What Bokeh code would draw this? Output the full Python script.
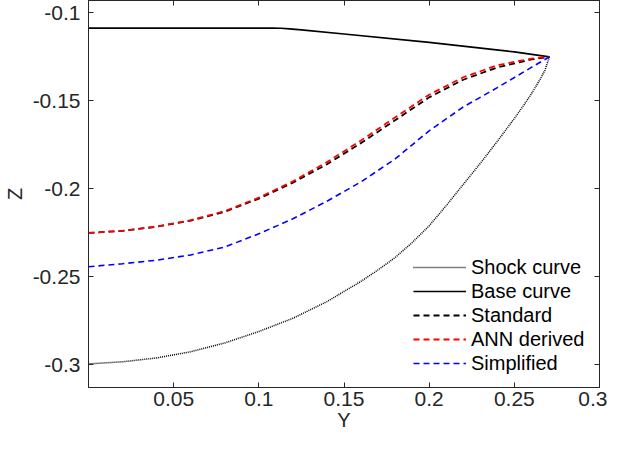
from bokeh.plotting import figure
from bokeh.models import Range1d, LinearAxis, FixedTicker, Legend, LegendItem
from bokeh.embed import file_html
from bokeh.resources import INLINE

# ---- data ----
y_grid = [0.0, 0.02, 0.04, 0.06, 0.08, 0.10, 0.12, 0.14, 0.16, 0.18, 0.20, 0.22, 0.24, 0.26, 0.2706]
z_standard = [-0.2250, -0.2238, -0.2215, -0.2180, -0.2130, -0.2055, -0.1965, -0.1860, -0.1740,
              -0.1610, -0.1480, -0.1380, -0.1310, -0.1265, -0.1250]
z_ann = [-0.2250, -0.2238, -0.2214, -0.2178, -0.2126, -0.2050, -0.1957, -0.1848, -0.1725,
         -0.1594, -0.1465, -0.1366, -0.1298, -0.1260, -0.1250]
z_simplified = [-0.2442, -0.2425, -0.2405, -0.2375, -0.2330, -0.2255, -0.2170, -0.2070, -0.1960,
                -0.1830, -0.1670, -0.1535, -0.1425, -0.1310, -0.1250]

y_shock = [0.0, 0.02, 0.04, 0.06, 0.08, 0.10, 0.12, 0.14, 0.16, 0.17, 0.18, 0.19, 0.20, 0.21,
           0.22, 0.23, 0.24, 0.245, 0.25, 0.255, 0.26, 0.265, 0.268, 0.2706]
z_shock = [-0.2994, -0.2982, -0.2960, -0.2925, -0.2875, -0.2810, -0.2735, -0.2640, -0.2525,
           -0.2460, -0.2390, -0.2305, -0.2210, -0.2095, -0.1975, -0.1855, -0.1730, -0.1665,
           -0.1600, -0.1532, -0.1460, -0.1380, -0.1325, -0.1250]

y_base = [0.0, 0.05, 0.10, 0.108, 0.113, 0.118, 0.125, 0.15, 0.20, 0.25, 0.2706]
z_base = [-0.1087, -0.1087, -0.1087, -0.1087, -0.1088, -0.1091, -0.1097, -0.1120, -0.1168,
          -0.1222, -0.1250]

x_ticks = [0.05, 0.1, 0.15, 0.2, 0.25, 0.3]
z_ticks = [-0.3, -0.25, -0.2, -0.15, -0.1]
labels = ["Shock curve", "Base curve", "Standard", "ANN derived", "Simplified"]

FONT = "Liberation Sans"
TXT = "#262626"

p = figure(width=607, height=437,
           x_range=Range1d(0, 0.3), y_range=Range1d(-0.3128, -0.0930),
           output_backend="svg", toolbar_location=None,
           min_border_left=84, min_border_right=8, min_border_top=0, min_border_bottom=50)
p.grid.visible = False
p.background_fill_color = "white"
p.border_fill_color = "white"
p.outline_line_color = TXT
p.outline_line_width = 1

def style_axis(ax, ticks, show_labels=True):
    ax.ticker = FixedTicker(ticks=ticks)
    ax.axis_line_color = TXT
    ax.major_tick_line_color = TXT
    ax.major_tick_in = 5
    ax.major_tick_out = 0
    ax.minor_tick_line_color = None
    ax.major_label_text_font = FONT
    ax.major_label_text_color = TXT
    if show_labels:
        ax.major_label_text_font_size = "21px"
        ax.major_label_standoff = 4
        ax.major_label_overrides = {t: ("%g" % t) for t in ticks}
    else:
        ax.major_label_text_font_size = "1px"
        ax.major_label_standoff = 0
        ax.axis_label_standoff = 0
        ax.major_label_overrides = {t: "" for t in ticks}
    ax.axis_label_text_font = FONT
    ax.axis_label_text_font_size = "20px"
    ax.axis_label_text_font_style = "normal"
    ax.axis_label_text_color = TXT

xa = p.xaxis[0]
style_axis(xa, x_ticks)
xa.axis_label = "Y"
xa.axis_label_standoff = 0

ya = p.yaxis[0]
style_axis(ya, z_ticks)
ya.major_label_standoff = 8
ya.axis_label = "Z"
ya.axis_label_standoff = 4

top = LinearAxis()
style_axis(top, x_ticks, show_labels=False)
p.add_layout(top, "above")
right = LinearAxis()
style_axis(right, z_ticks, show_labels=False)
p.add_layout(right, "right")

r_shock = p.line(y_shock, z_shock, line_color="#000000", line_width=1.5, line_dash="1 1")
r_base = p.line(y_base, z_base, line_color="#000000", line_width=1.6)
r_std = p.line(y_grid, z_standard, line_color="#000000", line_width=1.8, line_dash="6 4")
r_ann = p.line(y_grid, z_ann, line_color="#FF0000", line_width=1.8, line_dash="6 4")
r_simp = p.line(y_grid, z_simplified, line_color="#0000FF", line_width=1.6, line_dash="6 4")

legend = Legend(items=[LegendItem(label=l, renderers=[r]) for l, r in
                       zip(labels, [r_shock, r_base, r_std, r_ann, r_simp])],
                location=(325, 12))
legend.border_line_color = None
legend.background_fill_alpha = 0
legend.padding = 0
legend.margin = 0
legend.spacing = 0
legend.label_height = 24
legend.glyph_height = 24
legend.glyph_width = 53
legend.label_standoff = 5
legend.label_text_font = FONT
legend.label_text_font_size = "20px"
legend.label_text_color = "#000000"
p.add_layout(legend)

open("out.html", "w").write(file_html(p, INLINE))
